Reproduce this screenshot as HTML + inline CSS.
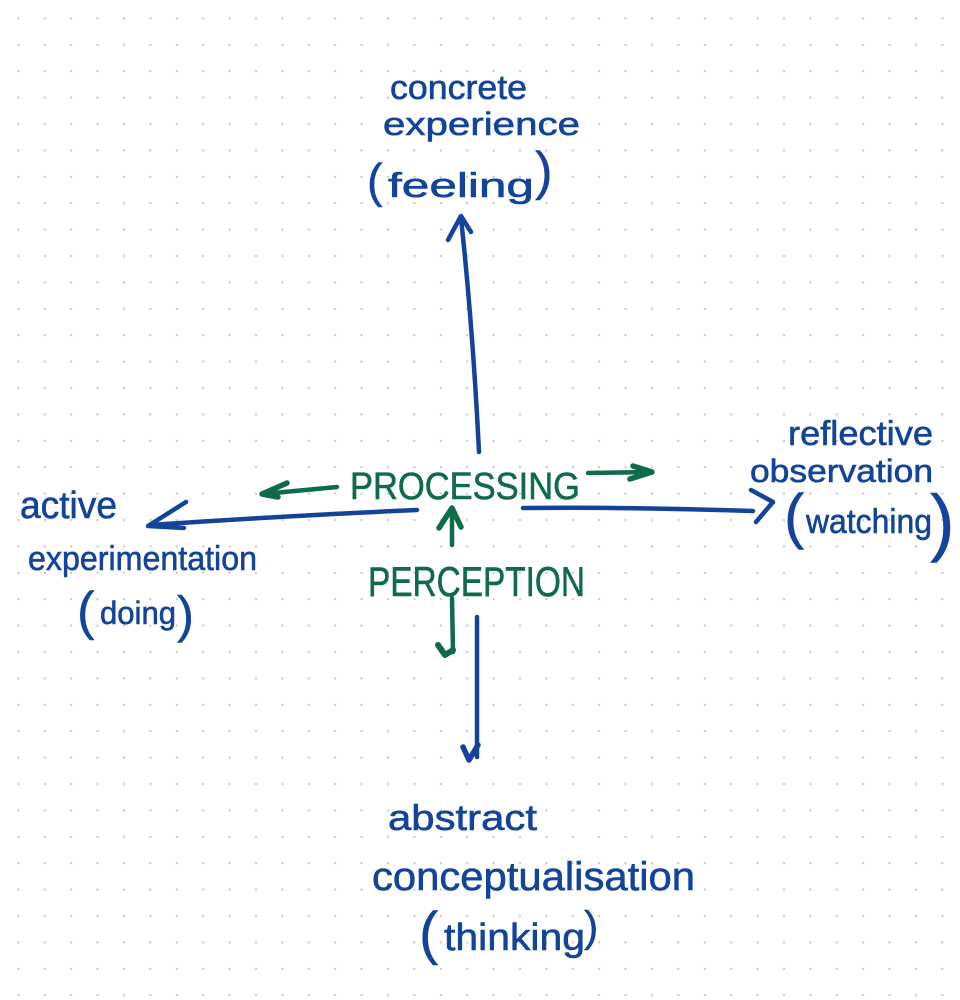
<!DOCTYPE html>
<html>
<head>
<meta charset="utf-8">
<style>
  html,body{margin:0;padding:0;background:#fff;}
  svg{display:block;}
  text{font-family:"Liberation Sans", sans-serif;}
  .b{fill:#13449a;stroke:#13449a;stroke-width:0.6;}
  .g{fill:#0f6b48;stroke:#0f6b48;stroke-width:0.6;}
  .p{fill:#13449a;stroke:#13449a;stroke-width:0.4;}
</style>
</head>
<body>
<svg width="960" height="1000" viewBox="0 0 960 1000" xmlns="http://www.w3.org/2000/svg">
  <defs>
    <pattern id="dots" x="18.4" y="18.4" width="26.4" height="26.4" patternUnits="userSpaceOnUse">
      <circle cx="0" cy="0" r="1.1" fill="#c4c4c4"/>
      <circle cx="26.4" cy="0" r="1.1" fill="#c4c4c4"/>
      <circle cx="0" cy="26.4" r="1.1" fill="#c4c4c4"/>
      <circle cx="26.4" cy="26.4" r="1.1" fill="#c4c4c4"/>
    </pattern>
  </defs>
  <rect x="0" y="0" width="960" height="1000" fill="url(#dots)"/>

  <!-- Blue arrows -->
  <g fill="none" stroke="#13449a" stroke-width="4.5" stroke-linecap="round" stroke-linejoin="round">
    <path d="M479,452 Q473,330 461,218"/>
    <path d="M448,240 L461,216 L471,232"/>
    <path d="M417,510 Q300,515 150,525"/>
    <path d="M186,502 L148,526 L184,528"/>
    <path d="M523,508 Q640,507 753,511"/>
    <path d="M751,490 L773,502 L756,522"/>
    <path d="M477,617 L477,757"/>
    <path d="M463,747 L469,760 L478,745" stroke-width="5.5"/>
  </g>

  <!-- Green arrows -->
  <g fill="none" stroke="#0f6b48" stroke-width="4.5" stroke-linecap="round" stroke-linejoin="round">
    <path d="M337,487 L263,494"/>
    <path d="M287,483 L262,494 L278,497" stroke-width="5.5"/>
    <path d="M588,473 L652,472"/>
    <path d="M633,466 L652,472 L630,479" stroke-width="5.5"/>
    <path d="M452,545 L452,510"/>
    <path d="M439,528 L452,508 L461,527" stroke-width="5.5"/>
    <path d="M452,598 L453,652"/>
    <path d="M438,645 L445,655 L453,650" stroke-width="6"/>
  </g>

  <!-- Top label -->
  <text class="b" x="390" y="99" font-size="34" textLength="137" lengthAdjust="spacingAndGlyphs">concrete</text>
  <text class="b" x="383" y="135" font-size="32" textLength="197" lengthAdjust="spacingAndGlyphs">experience</text>
  <text class="p" x="367" y="197" font-size="47">(</text>
  <text class="b" x="388" y="197" font-size="34" textLength="146" lengthAdjust="spacingAndGlyphs">feeling</text>
  <text class="p" x="535" y="189" font-size="53">)</text>

  <!-- Left label -->
  <text class="b" x="20" y="518" font-size="38" textLength="97" lengthAdjust="spacingAndGlyphs">active</text>
  <text class="b" x="28" y="570" font-size="34" textLength="229" lengthAdjust="spacingAndGlyphs">experimentation</text>
  <text class="p" x="77" y="629" font-size="53">(</text>
  <text class="b" x="100" y="624" font-size="32" textLength="76" lengthAdjust="spacingAndGlyphs">doing</text>
  <text class="p" x="177" y="632" font-size="51">)</text>

  <!-- Right label -->
  <text class="b" x="788" y="445" font-size="34" textLength="145" lengthAdjust="spacingAndGlyphs">reflective</text>
  <text class="b" x="750" y="482" font-size="32" textLength="183" lengthAdjust="spacingAndGlyphs">observation</text>
  <text class="p" x="784" y="537" font-size="61">(</text>
  <text class="b" x="806" y="533" font-size="34" textLength="126" lengthAdjust="spacingAndGlyphs">watching</text>
  <text class="p" x="930" y="547" font-size="74">)</text>

  <!-- Bottom label -->
  <text class="b" x="388" y="830" font-size="36" textLength="149" lengthAdjust="spacingAndGlyphs">abstract</text>
  <text class="b" x="372" y="890" font-size="40" textLength="323" lengthAdjust="spacingAndGlyphs">conceptualisation</text>
  <text class="p" x="419" y="953" font-size="58">(</text>
  <text class="b" x="444" y="950" font-size="38" textLength="141" lengthAdjust="spacingAndGlyphs">thinking</text>
  <text class="p" x="584" y="941" font-size="43">)</text>

  <!-- Green labels -->
  <text class="g" x="350" y="499" font-size="38" textLength="230" lengthAdjust="spacingAndGlyphs">PROCESSING</text>
  <text class="g" x="368" y="596" font-size="42" textLength="217" lengthAdjust="spacingAndGlyphs">PERCEPTION</text>
</svg>
</body>
</html>
